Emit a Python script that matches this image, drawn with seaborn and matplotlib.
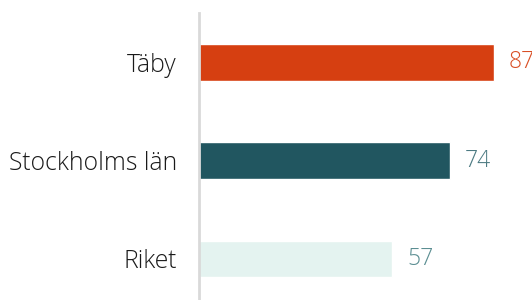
import matplotlib
matplotlib.use("Agg")
import matplotlib.pyplot as plt
import seaborn as sns
import pandas as pd

categories = ["Täby", "Stockholms län", "Riket"]
values = [87, 74, 57]
bar_colors = ["#D63F11", "#215660", "#E4F3F0"]
label_colors = ["#D94F25", "#4C7A82", "#5B8E92"]

sns.set_theme(style="white")
plt.rcParams['font.family'] = ['Open Sans', 'DejaVu Sans']

df = pd.DataFrame({"cat": categories, "val": values})

fig = plt.figure(figsize=(5.32, 3.0), dpi=100)
ax = fig.add_axes([199/532, 0, 1 - 199/532, 287/300])

sns.barplot(data=df, y="cat", x="val", hue="cat", palette=bar_colors,
            order=categories, hue_order=categories, width=0.37,
            saturation=1, legend=False, ax=ax, orient="h")

ax.set_xlim(0, 333/3.388)
ax.set_ylim(2.42, -0.503)

for i, (v, c) in enumerate(zip(values, label_colors)):
    ax.annotate(str(v), xy=(v, i), xytext=(15, 0), textcoords="offset pixels",
                va="center", ha="left", fontsize=16.5, color=c, fontweight="light")

ax.set_xlabel("")
ax.set_ylabel("")
ax.set_xticks([])
ax.tick_params(axis="y", length=0, pad=16)
for lab in ax.get_yticklabels():
    lab.set_fontsize(17.8)
    lab.set_color("#1A1A1A")
    lab.set_fontweight("light")

for s in ["top", "right", "bottom"]:
    ax.spines[s].set_visible(False)
ax.spines["left"].set_color("#D9D9D9")
ax.spines["left"].set_linewidth(2)

fig.savefig("out.png", dpi=100)
